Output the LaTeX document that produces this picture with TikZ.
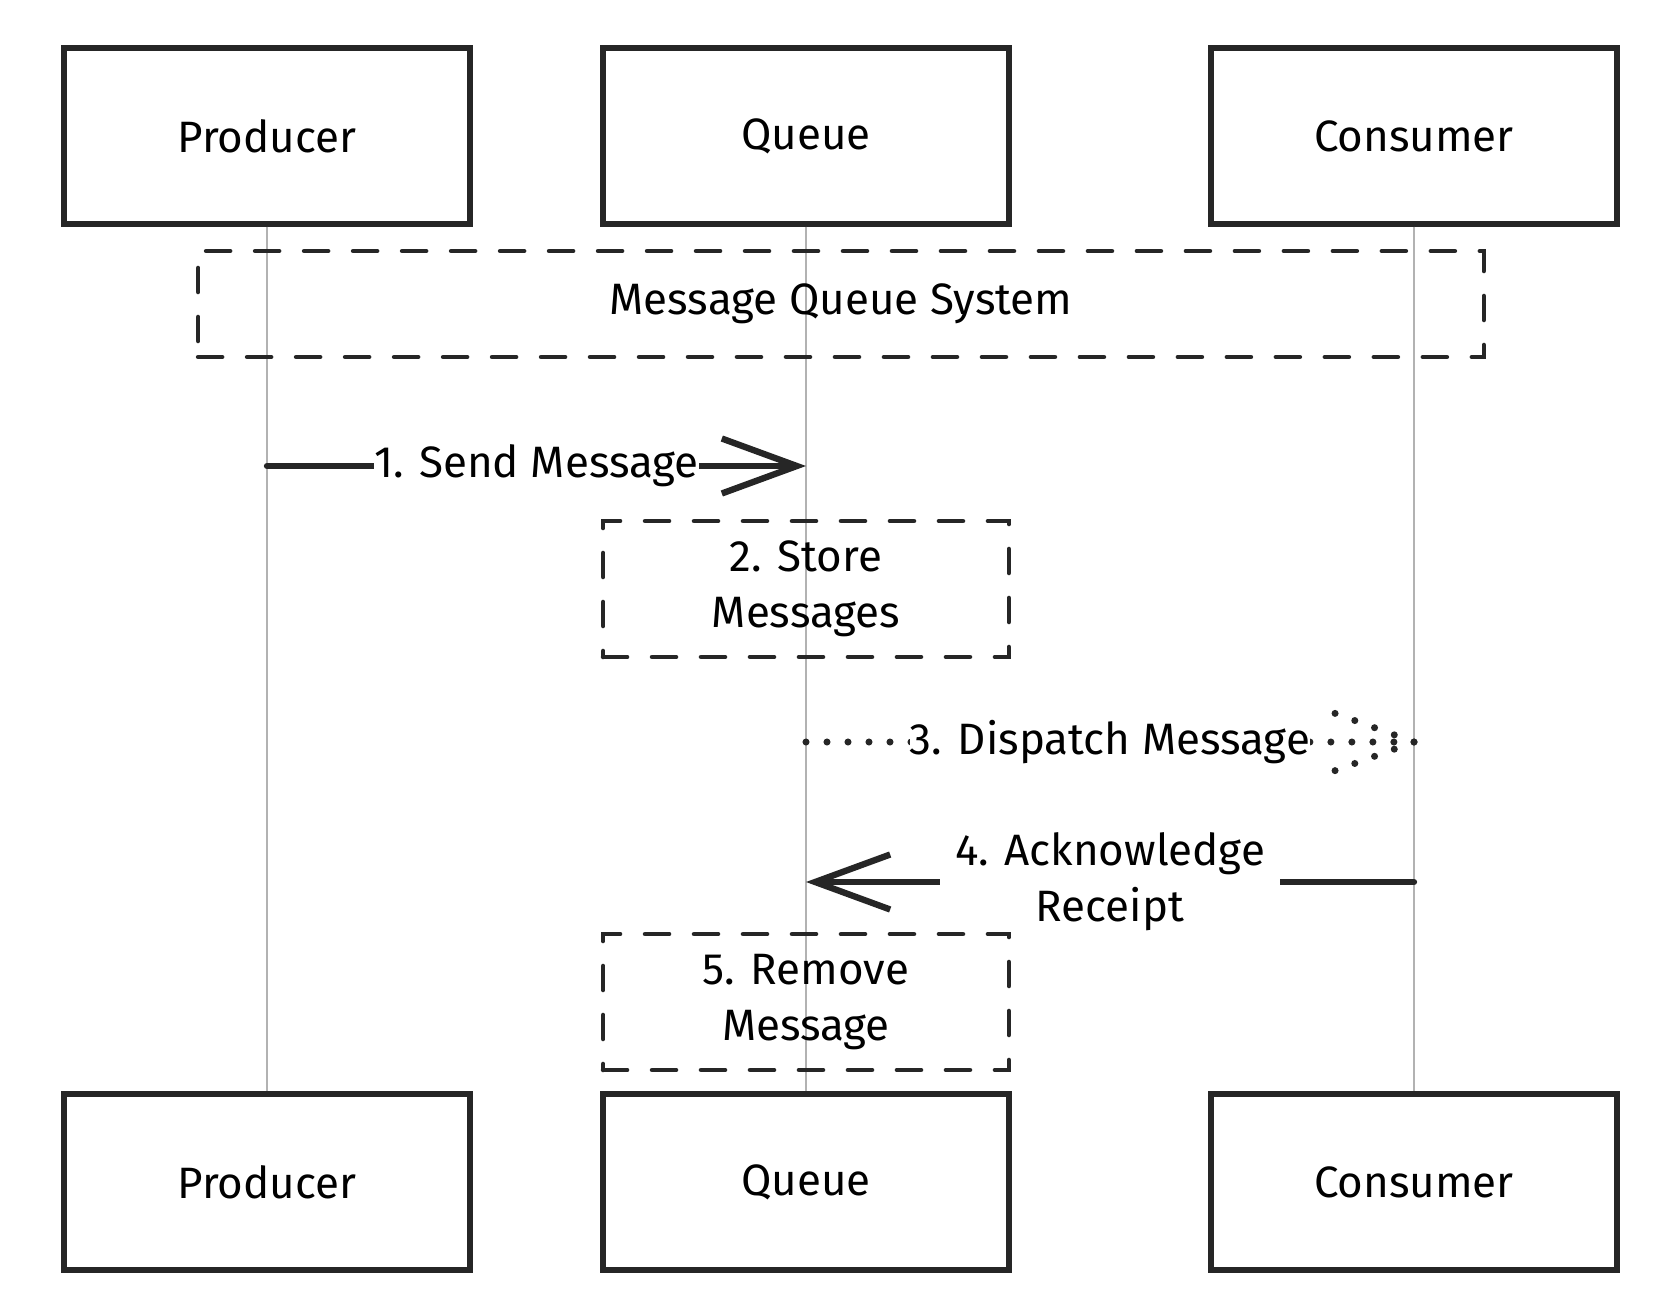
\documentclass[tikz,border=0pt]{standalone}
\usepackage{fontspec}
\setmainfont{Fira Sans}
\usetikzlibrary{arrows.meta}
\tikzset{
  actor/.style={draw=black!85, line width=3pt, minimum width=8.12cm, minimum height=3.52cm},
  lifeline/.style={draw=gray!60, line width=1.1pt},
  groupbox/.style={draw=black!85, line width=2.6pt, line cap=round, dash pattern=on 0.48cm off 0.5cm, minimum width=8.12cm, minimum height=2.72cm, align=center},
  msg/.style={draw=black!85, line width=3.6pt, line cap=round},
  dotline/.style={draw=black!85, line width=4pt, line cap=round, dash pattern=on 0pt off 0.42cm},
  msgtext/.style={fill=white, inner sep=0pt, align=center},
  bigbarb/.tip={Straight Barb[length=1.5cm, width=1.1cm]}
}

\begin{document}
\begin{tikzpicture}[x=0.02cm, y=-0.02cm, font=\fontsize{25}{32}\selectfont]
\fill[white] (0,0) rectangle (1674,1309);
% participants
\node[actor] (prodTop) at (267,136) {Producer};
\node[actor] (queueTop) at (806,136) {Queue};
\node[actor] (consTop) at (1414,136) {Consumer};
\node[actor] (prodBot) at (267,1182) {Producer};
\node[actor] (queueBot) at (806,1182) {Queue};
\node[actor] (consBot) at (1414,1182) {Consumer};
% lifelines
\draw[lifeline] (prodTop.south) -- (prodBot.north);
\draw[lifeline] (queueTop.south) -- (queueBot.north);
\draw[lifeline] (consTop.south) -- (consBot.north);
% notes
\node[groupbox, minimum width=25.72cm, minimum height=2.12cm] (system) at (841,304) {Message Queue System};
\node[groupbox] (store) at (806,589) {2. Store\\Messages};
\node[groupbox] (remove) at (806,1002) {5. Remove\\Message};
% messages
\coordinate (sendA) at (prodTop.south |- 0,466);
\coordinate (sendB) at (queueTop.south |- 0,466);
\coordinate (dispA) at (queueTop.south |- 0,742);
\coordinate (dispB) at (consTop.south |- 0,742);
\coordinate (ackA) at (consTop.south |- 0,882);
\coordinate (ackB) at (queueTop.south |- 0,882);
\draw[msg, -bigbarb] (sendA) -- node[msgtext] {1. Send Message} (sendB);
\draw[dotline] (dispA) -- node[msgtext] {3. Dispatch Message} (dispB);
\draw[dotline] (dispB) -- ++(-80,-29);
\draw[dotline] (dispB) -- ++(-80,29);
\draw[msg, -bigbarb] (ackA) -- node[msgtext, inner xsep=0.3cm] {4. Acknowledge\\Receipt} (ackB);
\end{tikzpicture}
\end{document}
